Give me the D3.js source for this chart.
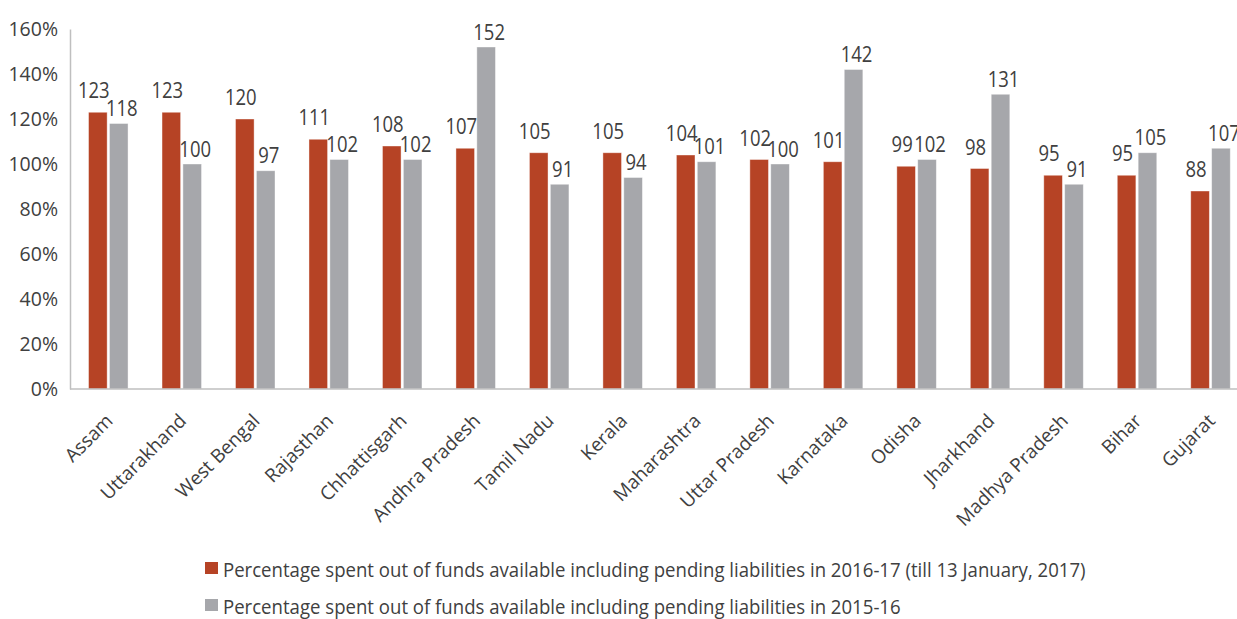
<!DOCTYPE html>
<html><head><meta charset="utf-8">
<script src="https://cdn.jsdelivr.net/npm/d3@7"></script>
<style>
html,body{margin:0;padding:0;background:#fff;}
svg{display:block;}
text{font-family:"Open Sans","Noto Sans",sans-serif;fill:#404040;}
</style></head>
<body>
<svg id="chart" width="1237" height="619"></svg>
<script>
const categories = ["Assam","Uttarakhand","West Bengal","Rajasthan","Chhattisgarh","Andhra Pradesh","Tamil Nadu","Kerala","Maharashtra","Uttar Pradesh","Karnataka","Odisha","Jharkhand","Madhya Pradesh","Bihar","Gujarat"];
const spent2016 = [123,123,120,111,108,107,105,105,104,102,101,99,98,95,95,88];
const spent2015 = [118,100,97,102,102,152,91,94,101,100,142,102,131,91,105,107];
const yTicks = [0,20,40,60,80,100,120,140,160];
const seriesNames = [
  "Percentage spent out of funds available including pending liabilities in 2016-17 (till 13 January, 2017)",
  "Percentage spent out of funds available including pending liabilities in 2015-16"
];
const seriesColors = ["#b64325","#a6a7ab"];

const svg = d3.select("#chart");
const x0 = d3.scaleBand().domain(categories).range([71.3, 1247]).paddingInner(0).paddingOuter(0);
const x1 = d3.scaleBand().domain([0,1]).range([-19.5, 20]).paddingInner(0.11);
const y = d3.scaleLinear().domain([0,160]).range([389, 29]);

// y axis
const yAxis = d3.axisLeft(y).tickValues(yTicks).tickFormat(d => d + "%").tickSize(0).tickPadding(12);
const gy = svg.append("g").attr("transform","translate(70,0)").call(yAxis);
gy.select(".domain").attr("stroke","#bfbfbf").attr("stroke-width",1.5);
gy.selectAll("text").style("font-size","19.5px").attr("fill","#404040")
  .attr("transform","scale(1,1.05)");

// bars
const data = categories.map((c,i)=>({c, v:[spent2016[i], spent2015[i]]}));
const groups = svg.append("g").selectAll("g").data(data).join("g")
  .attr("transform", d => `translate(${x0(d.c) + x0.bandwidth()/2},0)`);
groups.selectAll("rect").data(d => d.v.map((v,k)=>({v,k}))).join("rect")
  .attr("x", d => x1(d.k))
  .attr("width", x1.bandwidth())
  .attr("y", d => y(d.v))
  .attr("height", d => y(0) - y(d.v))
  .attr("fill", d => seriesColors[d.k])
  .attr("stroke","rgba(255,255,255,0.5)").attr("stroke-width",0.8);
groups.selectAll("text.lbl").data(d => d.v.map((v,k)=>({v,k}))).join("text")
  .attr("class","lbl")
  .attr("text-anchor","middle")
  .style("font-size","18.5px")
  .attr("transform", d => {
    const lx = x1(d.k) + x1.bandwidth()/2 + (d.k===0 ? -4 : 3);
    const ly = y(d.v) - (d.k===0 ? 14 : 7.5);
    return `translate(${lx},${ly}) scale(1,1.15)`;
  })
  .text(d => d.v);

// x baseline
const xAxis = d3.axisBottom(x0).tickSize(0).tickFormat(d=>d);
const gx = svg.append("g").attr("transform","translate(0,389)").call(xAxis);
gx.select(".domain").attr("d","M70,0H1237").attr("stroke","#bfbfbf").attr("stroke-width",1.5);
gx.selectAll(".tick text")
  .attr("text-anchor","end")
  .attr("dy",0).attr("y",0)
  .attr("transform","translate(6,33) rotate(-45)")
  .style("font-size","19px").attr("fill","#404040");

// legend
const leg = svg.append("g");
seriesNames.forEach((n,i)=>{
  const yy = 562 + i*37;
  leg.append("rect").attr("x",205).attr("y",yy).attr("width",13).attr("height",12).attr("fill",seriesColors[i]);
  leg.append("text").attr("transform",`translate(223,${yy+15}) scale(1,1.06)`).style("font-size","18.6px").text(n);
});
</script>
</body></html>
